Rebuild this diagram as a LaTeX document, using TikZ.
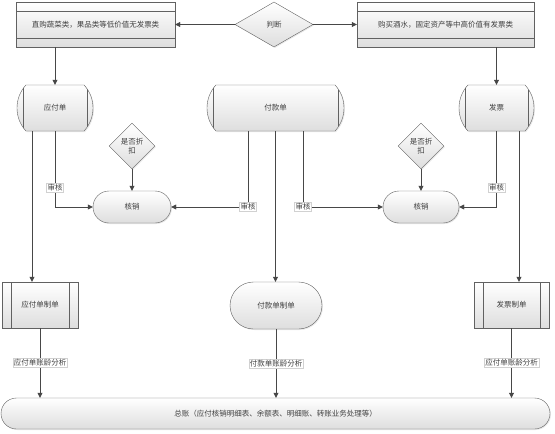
\documentclass[tikz,border=0pt]{standalone}
\usepackage{fontspec}
\newfontfamily\cjk{Noto Sans CJK SC}
\usetikzlibrary{shapes.geometric,shapes.misc,arrows.meta,shadows}
\colorlet{linegray}{black!72}
\colorlet{boxgray}{black!62}
\begin{document}
\begin{tikzpicture}[x=1pt,y=-1pt,
  every node/.style={font=\cjk\fontsize{7.5}{9}\selectfont,text=black!75},
  box/.style={draw=boxgray,top color=white,bottom color=black!13,inner sep=0pt,
    drop shadow={opacity=0.18,shadow xshift=1pt,shadow yshift=-1pt}},
  lanebox/.style={box,rectangle,minimum height=45,
    path picture={\draw[boxgray] ([yshift=-9pt]path picture bounding box.north west) -- ([yshift=-9pt]path picture bounding box.north east);
      \draw[boxgray] ([yshift=9pt]path picture bounding box.south west) -- ([yshift=9pt]path picture bounding box.south east);}},
  storebox/.style={box,rounded rectangle,rounded rectangle arc length=85,minimum height=46,
    path picture={\draw[boxgray] ([xshift=9pt]path picture bounding box.north west) -- ([xshift=9pt]path picture bounding box.south west);
      \draw[boxgray] ([xshift=-9pt]path picture bounding box.north east) -- ([xshift=-9pt]path picture bounding box.south east);}},
  procbox/.style={box,rectangle,minimum height=46,
    path picture={\draw[boxgray] ([xshift=9pt]path picture bounding box.north west) -- ([xshift=9pt]path picture bounding box.south west);
      \draw[boxgray] ([xshift=-9pt]path picture bounding box.north east) -- ([xshift=-9pt]path picture bounding box.south east);}},
  stadium/.style={box,rounded rectangle},
  decision/.style={box,diamond,align=center},
  arr/.style={draw=linegray,-{Triangle[length=5pt,width=5pt]}},
  lab/.style={fill=white,draw=black!18,inner sep=1pt}]
\useasboundingbox (0,0) rectangle (555,434);

% top row
\node[lanebox,minimum width=159] (lt) at (95.5,24.5) {直购蔬菜类，果品类等低价值无发票类};
\node[decision,minimum width=78,minimum height=45] (pd) at (274,24.5) {判断};
\node[lanebox,minimum width=177] (rt) at (445.5,24.5) {购买酒水，固定资产等中高价值有发票类};

% documents
\node[storebox,minimum width=76] (yfd) at (55,108) {应付单};
\node[storebox,minimum width=137] (fkd) at (275.5,108) {付款单};
\node[storebox,minimum width=75] (fp) at (496.5,108) {发票};

% write-off
\node[decision,minimum width=46,minimum height=46] (zk1) at (132,146) {是否折\\扣};
\node[decision,minimum width=46,minimum height=46] (zk2) at (421,146) {是否折\\扣};
\node[stadium,minimum width=78,minimum height=32] (hx1) at (132,207) {核销};
\node[stadium,minimum width=76,minimum height=32] (hx2) at (421,207) {核销};

% vouchers
\node[procbox,minimum width=76] (yfzd) at (40,305) {应付单制单};
\node[stadium,minimum width=92,minimum height=47] (fkzd) at (276,305.5) {付款单制单};
\node[procbox,minimum width=75] (fpzd) at (511.5,305) {发票制单};

\node[stadium,minimum width=549,minimum height=31] (zz) at (275.5,413.5) {总账（应付核销明细表、余额表、明细账、转账业务处理等）};

\draw[arr] (pd.west) -- (lt.east);
\draw[arr] (pd.east) -- (rt.west);
\draw[arr] (lt.south -| yfd.north) -- (yfd.north);
\draw[arr] (rt.south -| fp.north) -- (fp.north);

\draw[arr] (yfd.south) |- node[lab,pos=0.37] {审核} (hx1.west);
\draw[arr] ([xshift=-23pt]yfd.south) -- ([xshift=-23pt]yfd.south |- yfzd.north);
\draw[arr] (zk1.south) -- (hx1.north);
\draw[arr] ([xshift=-27.5pt]fkd.south) |- node[lab] {审核} (hx1.east);
\draw[arr] ([xshift=27.5pt]fkd.south) |- node[lab] {审核} (hx2.west);
\draw[arr] (fkd.south) -- (fkd.south |- fkzd.north);
\draw[arr] (zk2.south) -- (hx2.north);
\draw[arr] (fp.south) |- node[lab,pos=0.37] {审核} (hx2.east);
\draw[arr] ([xshift=22.5pt]fp.south) -- ([xshift=22.5pt]fp.south |- fpzd.north);

\draw[arr] (yfzd.south) -- node[lab] {应付单账龄分析} (yfzd.south |- zz.north);
\draw[arr] (fkzd.south) -- node[lab] {付款单账龄分析} (fkzd.south |- zz.north);
\draw[arr] (fpzd.south) -- node[lab] {应付单账龄分析} (fpzd.south |- zz.north);
\end{tikzpicture}
\end{document}
